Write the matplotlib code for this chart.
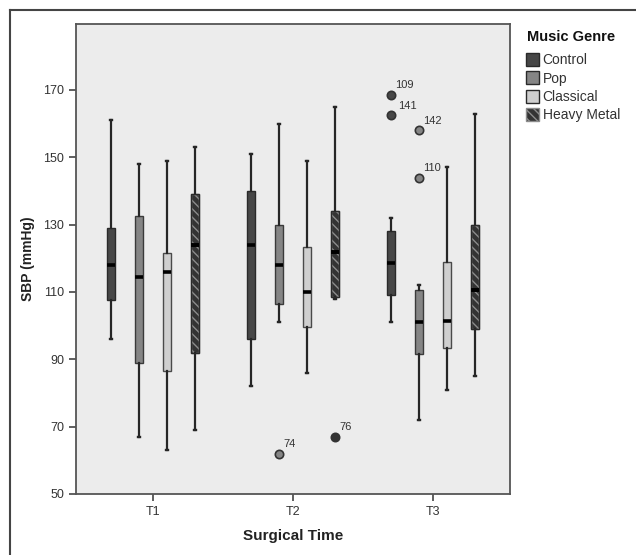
import matplotlib
matplotlib.use('Agg')
import matplotlib.pyplot as plt
from matplotlib.patches import Patch
from matplotlib.lines import Line2D

plt.rcParams['font.family'] = ['Liberation Sans', 'DejaVu Sans']

# categories
times = ['T1', 'T2', 'T3']
genres = ['Control', 'Pop', 'Classical', 'Heavy Metal']

# box statistics, one row per genre, one value per surgical time
whis_high = [[161, 151, 132], [148, 160, 112], [149, 149, 147], [153, 165, 163]]
q3 = [[129, 140, 128], [132.5, 130, 110.5], [121.5, 123.5, 119], [139, 134, 130]]
medians = [[118, 124, 118.5], [114.5, 118, 101], [116, 110, 101.5], [124, 122, 110.5]]
q1 = [[107.5, 96, 109], [89, 106.5, 91.5], [86.5, 99.5, 93.5], [92, 108.5, 99]]
whis_low = [[96, 82, 101], [67, 101, 72], [63, 86, 81], [69, 108, 85]]

# outliers: (genre index, time index) -> values and case labels
flier_vals = {(0, 2): [168.5, 162.5], (1, 1): [62], (1, 2): [158, 144], (3, 1): [67]}
flier_labels = {(0, 2): ['109', '141'], (1, 1): ['74'], (1, 2): ['142', '110'], (3, 1): ['76']}

colors = ['#474747', '#858585', '#cfcfcf', '#333333']
edges = ['#2a2a2a', '#3a3a3a', '#4a4a4a', '#8c8c8c']
hatches = [None, None, None, '\\\\\\\\']
offsets = [-0.3, -0.1, 0.1, 0.3]

fig = plt.figure(figsize=(6.36, 5.55), dpi=100)
ax = fig.add_axes([76 / 636, 1 - 494 / 555, 434 / 636, 470 / 555])
ax.set_facecolor('#ececec')

for g in range(len(genres)):
    stats = []
    for t in range(len(times)):
        stats.append({
            'whislo': whis_low[g][t], 'q1': q1[g][t], 'med': medians[g][t],
            'q3': q3[g][t], 'whishi': whis_high[g][t],
            'fliers': flier_vals.get((g, t), []),
        })
    pos = [t + offsets[g] for t in range(len(times))]
    bp = ax.bxp(stats, positions=pos, widths=0.058, capwidths=0.018,
                patch_artist=True, manage_ticks=False,
                boxprops=dict(facecolor=colors[g], edgecolor=edges[g], linewidth=1.0,
                              hatch=hatches[g]),
                medianprops=dict(color='black', linewidth=2.6),
                whiskerprops=dict(color='#262626', linewidth=1.6),
                capprops=dict(color='#262626', linewidth=1.7),
                flierprops=dict(marker='o', markersize=6, markerfacecolor=colors[g],
                                markeredgecolor='#333333', markeredgewidth=1.2))
    if hatches[g]:
        # dark outline on top of the hatched box
        for t in range(len(times)):
            ax.bxp([stats[t]], positions=[pos[t]], widths=0.058, showcaps=False,
                   showfliers=False, manage_ticks=False, patch_artist=True,
                   boxprops=dict(facecolor='none', edgecolor='#2a2a2a', linewidth=1.0),
                   medianprops=dict(color='black', linewidth=2.6),
                   whiskerprops=dict(linewidth=0))

# case numbers next to the outliers
for key, vals in flier_vals.items():
    g, t = key
    for v, lab in zip(vals, flier_labels[key]):
        dx = 5 if lab == '141' else 3
        ax.annotate(lab, (t + offsets[g], v), xytext=(dx, 7), textcoords='offset points',
                    fontsize=8, color='#333333', ha='left', va='center')

ax.set_xlim(-0.55, 2.55)
ax.set_ylim(50, 189.6)
ax.set_xticks(range(len(times)))
ax.set_xticklabels(times)
ax.set_yticks([50, 70, 90, 110, 130, 150, 170])
ax.tick_params(axis='both', labelsize=9, labelcolor='#333333', color='#444444',
               length=5, width=1.2, direction='out')
for s in ax.spines.values():
    s.set_color('#555555')
    s.set_linewidth(1.3)

ax.set_ylabel('SBP (mmHg)', fontsize=10, fontweight='bold', color='#222222', labelpad=6)
ax.set_xlabel('Surgical Time', fontsize=11, fontweight='bold', color='#222222', labelpad=8)

# legend outside the plot
fig.text(527 / 636, 1 - 37 / 555, 'Music Genre', fontsize=10.5, fontweight='bold',
         color='#111111', ha='left', va='center')
handles = [Patch(facecolor=colors[i], edgecolor='#2a2a2a' if i < 3 else edges[i],
                 hatch=hatches[i], label=genres[i]) for i in range(len(genres))]
leg = fig.legend(handles=handles, loc='upper left', bbox_to_anchor=(526 / 636, 1 - 53 / 555),
                 frameon=False, fontsize=10,
                 handlelength=0.95, handleheight=1.05, handletextpad=0.25,
                 labelspacing=0.3, borderaxespad=0, borderpad=0)
for txt in leg.get_texts():
    txt.set_color('#333333')

# border of the original figure (left and top only)
fig.add_artist(Line2D([10 / 636, 10 / 636], [0, 1 - 10 / 555], color='#444444', linewidth=1.5))
fig.add_artist(Line2D([10 / 636, 1], [1 - 10 / 555, 1 - 10 / 555], color='#444444', linewidth=1.5))

plt.savefig('out.png', dpi=100)
